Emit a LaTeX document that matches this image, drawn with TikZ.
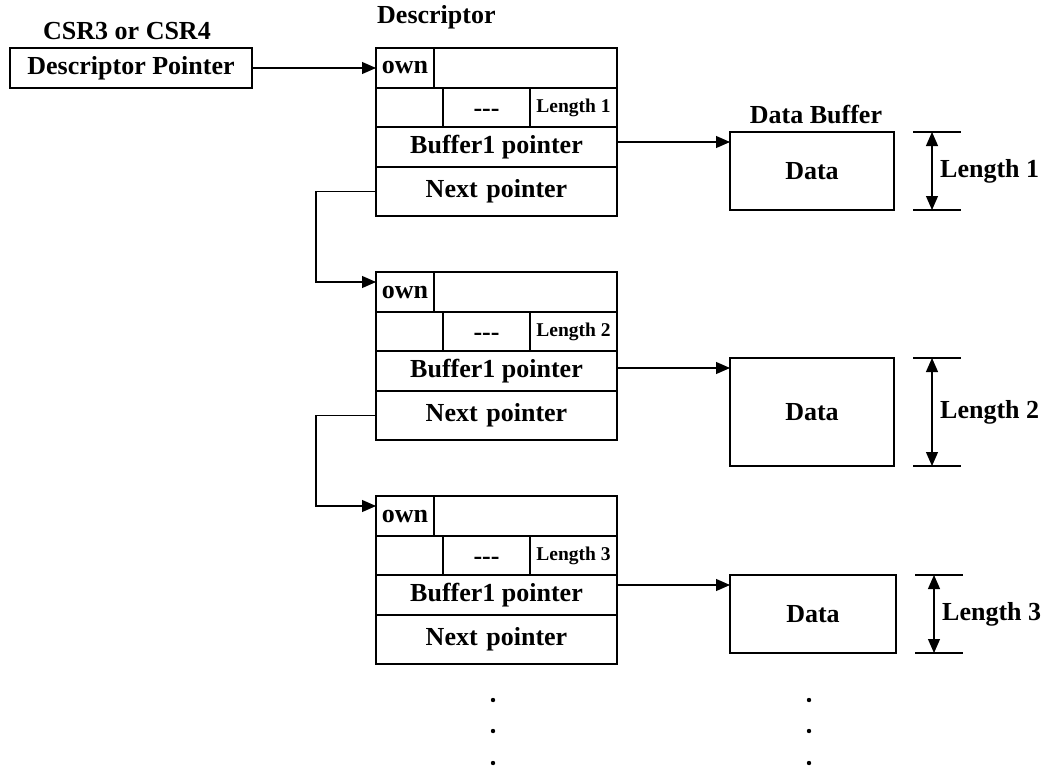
\documentclass[tikz,border=0pt]{standalone}
\usepackage{fontspec}
\setmainfont{Liberation Serif}
\usepackage{tikz}
\usetikzlibrary{arrows.meta,calc}

\tikzset{
  lbl/.style={font=\bfseries\fontsize{26}{30}\selectfont, inner sep=0pt},
  smalllbl/.style={font=\bfseries\fontsize{19.5}{22}\selectfont},
  cell/.style={draw, line width=1.1pt, inner sep=0pt, outer sep=0pt, anchor=north west, lbl},
  databox/.style={draw, line width=1.1pt, inner sep=0pt, outer sep=0pt, lbl},
  arr/.style={line width=1.1pt, -{Triangle[length=14pt,width=12pt]}},
  dim/.style={line width=1.1pt, {Triangle[length=14pt,width=12pt]}-{Triangle[length=14pt,width=12pt]}},
}

\begin{document}
\begin{tikzpicture}[x=1pt,y=1pt,yscale=-1,xscale=1]
\useasboundingbox (0,0) rectangle (1047,768);

        %CSR register
        \node[lbl] (csrlbl) at (127,31) {CSR3 or CSR4};
        \node[databox, minimum width=242pt, minimum height=40pt] (ptr) at (131,68) {Descriptor Pointer};
        \node[lbl, anchor=west] (desclbl) at (377,17) {Descriptor};
        \node[lbl] (buflbl) at (816,115) {Data Buffer};

        %Descriptors
        \foreach \i/\T in {1/48, 2/272, 3/496} {
          \node[cell, minimum width=58pt, minimum height=40pt] (own\i) at (376,\T) {own};
          \node[cell, minimum width=183pt, minimum height=40pt] (flag\i) at (own\i.north east) {};
          \node[cell, minimum width=67pt, minimum height=39pt] (st\i) at (own\i.south west) {};
          \node[cell, minimum width=87pt, minimum height=39pt] (dash\i) at (st\i.north east) {\raisebox{-9pt}[0pt][0pt]{{-}{-}{-}}};
          \node[cell, smalllbl, minimum width=87pt, minimum height=39pt] (len\i) at (dash\i.north east) {Length \i};
          \node[cell, minimum width=241pt, minimum height=40pt] (buf\i) at (st\i.south west) {Buffer1 pointer};
          \node[cell, minimum width=241pt, minimum height=49pt, text width=241pt, align=center] (next\i) at (buf\i.south west) {Next pointer\hspace*{22pt}};
        }

        %Data buffers
        \node[databox, minimum width=164pt, minimum height=78pt] (data1) at (812,171) {Data};
        \node[databox, minimum width=164pt, minimum height=108pt] (data2) at (812,412) {Data};
        \node[databox, minimum width=166pt, minimum height=78pt] (data3) at (813,614) {Data};

        %Length markers
        \foreach \i in {1,2,3} {
          \coordinate (lt\i) at ([xshift=19pt]data\i.north east);
          \coordinate (lb\i) at ([xshift=19pt]data\i.south east);
          \draw[line width=1.1pt] (lt\i) -- ++(48,0);
          \draw[line width=1.1pt] (lb\i) -- ++(48,0);
          \draw[dim] ([xshift=19pt]lt\i) -- ([xshift=19pt]lb\i);
          \node[lbl, anchor=west] (dimlbl\i) at ([xshift=27pt]$(lt\i)!0.5!(lb\i)$) {Length \i};
          \coordinate (be\i) at ([yshift=10pt]data\i.north west);
          \draw[arr] (buf\i.east |- be\i) -- (be\i);
        }

        %Pointers
        \draw[arr] (ptr.east) -- (own1.west);
        \draw[arr] (next1.west) -- ++(-60,0) |- ([yshift=-10pt]own2.west);
        \draw[arr] (next2.west) -- ++(-60,0) |- ([yshift=-10pt]own3.west);

        %More descriptors
        \foreach \y in {700,731,763} {
          \fill (493,\y) circle (2.2);
          \fill (809,\y) circle (2.2);
        }
\end{tikzpicture}
\end{document}
